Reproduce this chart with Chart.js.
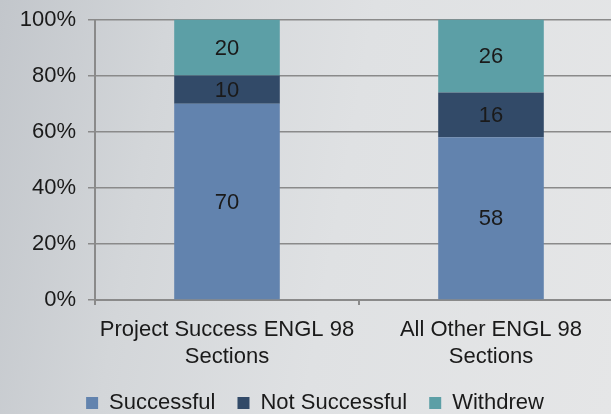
<!DOCTYPE html>
<html>
<head>
<meta charset="utf-8">
<script src="https://cdn.jsdelivr.net/npm/chart.js@4/dist/chart.umd.min.js"></script>
<style>
  html, body { margin: 0; padding: 0; width: 611px; height: 414px; overflow: hidden; }
  body { background: linear-gradient(100deg, #c2c6cb 0%, #d3d6d9 25%, #dfe1e3 55%, #e5e6e7 100%); }
  #wrap { position: absolute; left: 0; top: 0; width: 630px; height: 414px; }
</style>
</head>
<body>
<div id="wrap"><canvas id="c"></canvas></div>
<script>
const categories = [["Project Success ENGL 98", "Sections"], ["All Other ENGL 98", "Sections"]];
const seriesNames = ["Successful", "Not Successful", "Withdrew"];
const successful = [70, 58];
const notSuccessful = [10, 16];
const withdrew = [20, 26];
const yTicks = [0, 20, 40, 60, 80, 100];
const colors = ["#6283ae", "#324a68", "#5c9fa6"];

const FONT = "'Liberation Sans', Arial, sans-serif";
const TEXT = "#1a1a1a";
const LINE = "#8a8a8a";

const valueLabels = {
  id: "valueLabels",
  afterDatasetsDraw(chart) {
    const ctx = chart.ctx;
    ctx.save();
    ctx.font = "22px " + FONT;
    ctx.fillStyle = TEXT;
    ctx.textAlign = "center";
    ctx.textBaseline = "middle";
    chart.data.datasets.forEach((ds, i) => {
      chart.getDatasetMeta(i).data.forEach((bar, j) => {
        const top = bar.y, bottom = bar.base;
        ctx.fillText(String(ds.data[j]), bar.x, (top + bottom) / 2 + 1);
      });
    });
    ctx.restore();
  }
};

new Chart(document.getElementById("c"), {
  type: "bar",
  data: {
    labels: categories,
    datasets: [
      { label: seriesNames[0], data: successful, backgroundColor: colors[0] },
      { label: seriesNames[1], data: notSuccessful, backgroundColor: colors[1] },
      { label: seriesNames[2], data: withdrew, backgroundColor: colors[2] }
    ]
  },
  options: {
    responsive: true,
    maintainAspectRatio: false,
    animation: false,
    layout: { padding: { left: 7, right: 7, top: 19.5, bottom: -10 } },
    datasets: { bar: { categoryPercentage: 1, barPercentage: 0.4 } },
    plugins: {
      legend: {
        position: "bottom",
        labels: {
          font: { family: FONT, size: 22 },
          color: TEXT,
          boxWidth: 12,
          boxHeight: 12,
          padding: 22
        }
      },
      tooltip: { enabled: false }
    },
    scales: {
      x: {
        stacked: true,
        afterFit(scale) { scale.height = 70; },
        grid: { drawOnChartArea: false, drawTicks: true, tickLength: 5, color: LINE, lineWidth: 2, offset: true },
        border: { display: true, color: LINE, width: 2 },
        ticks: { font: { family: FONT, size: 22 }, color: TEXT, padding: 12, maxRotation: 0 }
      },
      y: {
        stacked: true,
        min: 0,
        max: 100,
        afterBuildTicks(scale) { scale.ticks = yTicks.map(v => ({ value: v })); },
        afterFit(scale) { scale.width = 95 - 7; scale.paddingTop = 0; scale.paddingBottom = 0; },
        grid: { color: LINE, lineWidth: 1.5, tickLength: 7 },
        border: { display: true, color: LINE, width: 2 },
        ticks: { font: { family: FONT, size: 22 }, color: TEXT, padding: 12, callback: v => v + "%" }
      }
    }
  },
  plugins: [valueLabels]
});
</script>
</body>
</html>
